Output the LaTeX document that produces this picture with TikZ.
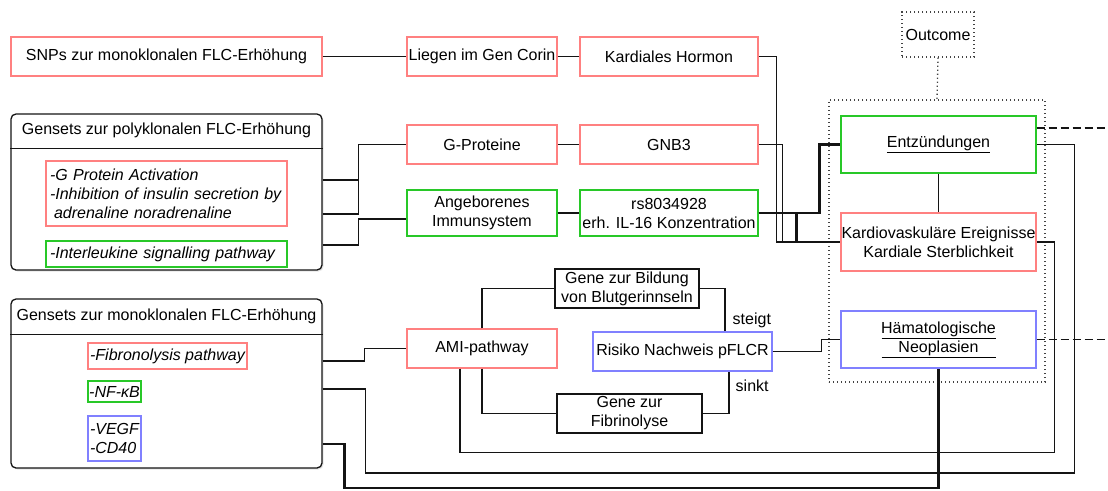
\documentclass[tikz,border=0pt]{standalone}
\usepackage{fontspec}
\setmainfont{Liberation Sans}
\usetikzlibrary{calc,shadows}
\definecolor{cred}{RGB}{255,128,128}
\definecolor{cgreen}{RGB}{40,200,40}
\definecolor{cblue}{RGB}{128,128,255}
\definecolor{cline}{RGB}{20,20,20}
\begin{document}
\begin{tikzpicture}[x=1pt,y=-1pt,
  every node/.style={font=\fontsize{16}{19}\selectfont, text=black},
  box/.style={draw, line width=1.3pt, inner sep=0pt, align=center},
  redbox/.style={box, draw=cred},
  greenbox/.style={box, draw=cgreen},
  bluebox/.style={box, draw=cblue},
  blackbox/.style={box, draw=cline},
  dotbox/.style={draw=cline!80, line width=1.3pt, dash pattern=on 1.3pt off 2.7pt, inner sep=0pt},
  groupbox/.style={draw=cline, line width=1.3pt, rounded corners=5pt, fill=white,
    drop shadow={opacity=0.2, shadow xshift=1.5pt, shadow yshift=-1.5pt}},
  itext/.style={font=\fontsize{16}{19}\selectfont\itshape},
  conn/.style={draw=cline, line width=1.4pt},
  thickconn/.style={draw=cline, line width=2.9pt},
  dashline/.style={draw=cline, line width=1.4pt, dash pattern=on 8pt off 4pt},
  lbl/.style={inner sep=0pt, anchor=west}
]
\fill[white] (0,0) rectangle (1108,490);
\useasboundingbox (0,0) rectangle (1108,490);

% ---------- left groups ----------
\node[redbox, minimum width=311, minimum height=39] (snp) at (166.5,56.5) {SNPs zur monoklonalen FLC-Erhöhung};

\node[groupbox, minimum width=311, minimum height=156] (poly) at (166.5,192) {};
\draw[conn] ([yshift=-35pt]poly.north west) -- ([yshift=-35pt]poly.north east);
\node (polytitle) at ([yshift=-17.5pt]poly.north) {Gensets zur polyklonalen FLC-Erhöhung};
\node[redbox, itext, minimum width=241, minimum height=65, text width=233, align=left] (polyg) at (166.5,193.5)
  {-G Protein Activation\\-Inhibition of insulin secretion by\\\hspace*{4pt}adrenaline noradrenaline};
\node[greenbox, itext, minimum width=241, minimum height=26, text width=233, align=left] (polyi) at (166.5,254)
  {-Interleukine signalling pathway};

\node[groupbox, minimum width=311, minimum height=169] (mono) at (166.5,383.5) {};
\draw[conn] ([yshift=-36pt]mono.north west) -- ([yshift=-36pt]mono.north east);
\node (monotitle) at ([yshift=-18pt]mono.north) {Gensets zur monoklonalen FLC-Erhöhung};
\node[redbox, itext, minimum width=159, minimum height=26] (fib) at (167.5,356) {-Fibronolysis pathway};
\node[greenbox, itext, minimum width=53, minimum height=21] (nfkb) at (114.5,391.5) {-NF-κB};
\node[bluebox, itext, minimum width=53, minimum height=45, align=left] (vegf) at (114.5,438.5) {-VEGF\\-CD40};

% ---------- middle ----------
\node[redbox, minimum width=150, minimum height=39] (corin) at (482,56.5) {Liegen im Gen Corin};
\node[redbox, minimum width=178, minimum height=39] (hormon) at (669,56.5) {Kardiales Hormon};
\node[redbox, minimum width=150, minimum height=39] (gprot) at (482,144.5) {G-Proteine};
\node[redbox, minimum width=178, minimum height=39] (gnb3) at (669,144.5) {GNB3};
\node[greenbox, minimum width=150, minimum height=46] (angeb) at (482,213) {Angeborenes\\Immunsystem};
\node[greenbox, minimum width=178, minimum height=46] (rs) at (669,213) {rs8034928\\erh. IL-16 Konzentration};
\node[redbox, minimum width=150, minimum height=39] (ami) at (482,348.5) {AMI-pathway};
\node[blackbox, minimum width=144, minimum height=39] (bild) at (627,288.5) {Gene zur Bildung\\von Blutgerinnseln};
\node[blackbox, minimum width=145, minimum height=39] (fibr) at (629.5,413.5) {Gene zur\\Fibrinolyse};
\node[bluebox, minimum width=179, minimum height=39] (risiko) at (682.5,351.5) {Risiko Nachweis pFLCR};

% ---------- outcome ----------
\node[dotbox, minimum width=72, minimum height=45] (outcome) at (938,34.5) {Outcome};
\node[dotbox, minimum width=216, minimum height=282] (outer) at (937,241) {};
\node[greenbox, minimum width=195, minimum height=57] (entz) at (938.5,144.5) {\underline{Entzündungen}};
\node[redbox, minimum width=195, minimum height=58] (kardio) at (938.5,242) {Kardiovaskuläre Ereignisse\\Kardiale Sterblichkeit};
\node[bluebox, minimum width=195, minimum height=57] (haem) at (938.5,339.5)
  {\underline{\makebox[114pt]{Hämatologische}}\\\underline{\makebox[114pt]{Neoplasien}}};

\coordinate (dA) at (1108,128);
\coordinate (dB) at (1108,339.5);

% ---------- connectors ----------
\draw[conn] (snp.east) -- (corin.west);
\draw[conn] (corin.east) -- (hormon.west);
\draw[conn] (gprot.east) -- (gnb3.west);
\draw[conn] (angeb.east) -- (rs.west);

\draw[conn] ([yshift=12pt]poly.east) -- ++(36,0) |- (gprot.west);
\draw[conn] ([yshift=-22pt]poly.east) -- ++(36,0) |- (gprot.west);
\draw[conn] ([yshift=-53pt]poly.east) -- ++(36,0) |- ([yshift=-6pt]angeb.west);

\draw[conn] ([yshift=22.5pt]mono.east) -- ++(42,0) |- (ami.west);
\draw[conn] ([yshift=-5.5pt]mono.east) -| ++(43,84) -| ([xshift=38pt]entz.east) -- (entz.east);
\draw[thickconn] ([yshift=-60.5pt]mono.east) -| ++(22,44) -| (haem.south);

\draw[conn] (ami.north) |- (bild.west);
\draw[conn] (ami.south) |- (fibr.west);
\draw[conn] ([xshift=-22pt]ami.south) -- ++(0,84) -| ([xshift=18pt]kardio.east) -- (kardio.east);
\draw[conn] (bild.east) -| node[lbl, pos=0.875, xshift=7pt] {steigt} ([xshift=42.5pt]risiko.north);
\draw[conn] (fibr.east) -| node[lbl, pos=0.835, xshift=6pt] {sinkt} ([xshift=46.5pt]risiko.south);
\draw[conn] (risiko.east) -- ++(49,0) |- (haem.west);

\draw[conn] (hormon.east) -- ++(18,0) |- (kardio.west);
\draw[conn] (gnb3.east) -- ++(24,0) |- (kardio.west);
\draw[thickconn] (rs.east) -- ++(61,0) |- (entz.west);
\draw[thickconn] (rs.east) -- ++(38,0) |- (kardio.west);

\draw[conn] (entz.south) -- (kardio.north);
\draw[dotbox] (outcome.south) -- (outer.north);
\draw[dashline] ([yshift=16.5pt]entz.east) -- (dA);
\draw[dashline] (haem.east) -- (dB);
\end{tikzpicture}
\end{document}
